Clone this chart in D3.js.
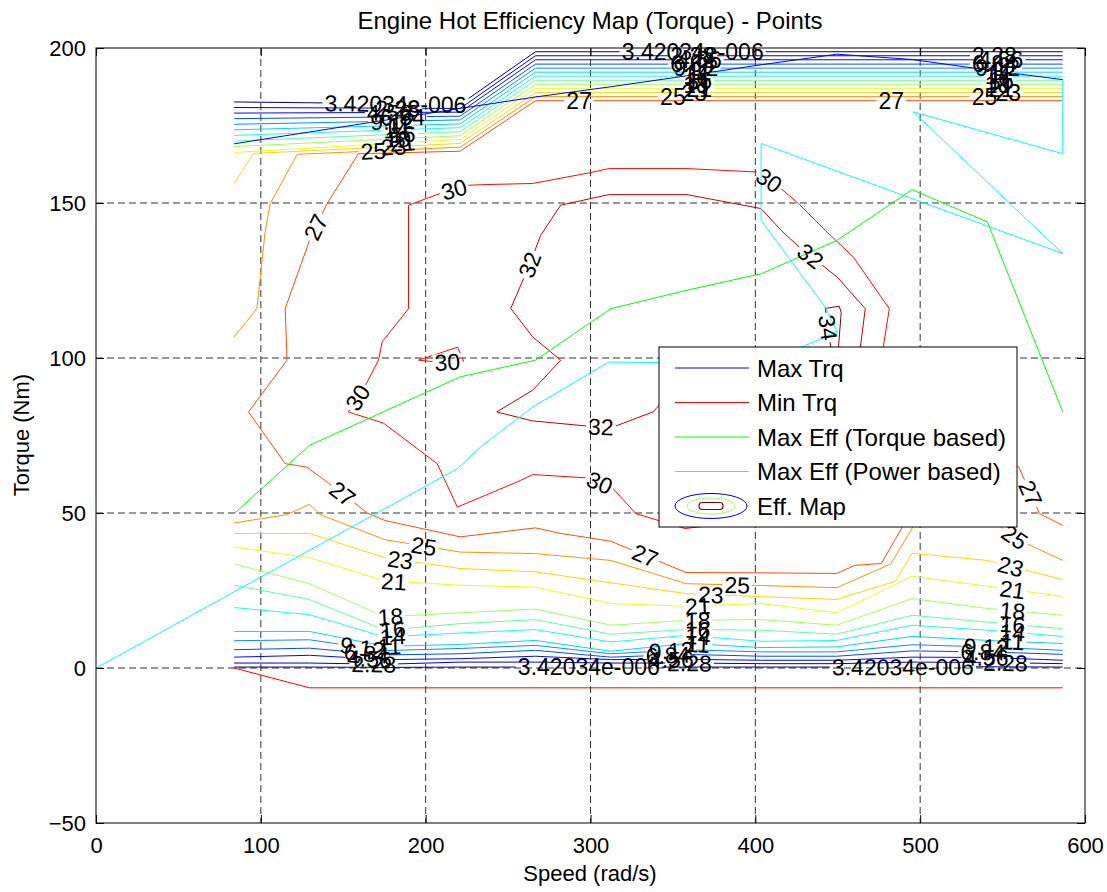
<!DOCTYPE html>
<html>
<head>
<meta charset="utf-8">
<script src="https://cdn.jsdelivr.net/npm/d3@7"></script>
<style>
  body { margin: 0; background: #fff; }
  svg text { font-family: "Liberation Sans", Arial, sans-serif; fill: #000; }
</style>
</head>
<body>
<svg id="chart" width="1107" height="892"></svg>
<script>
// ---- data (speed rad/s, torque Nm) ----
const speeds = [83.8, 129.5, 175.2, 220.9, 266.6, 312.3, 358, 403.7, 449.4, 495.1, 540.8, 586.5];
const levels = [0.00000342034, 2.28, 4.56, 6.84, 9.12, 11.4, 13.7, 16.0, 18.2, 20.5, 22.8, 25.1, 27.4, 29.6, 31.9, 34.2];
const levelText = ["3.42034e-006", "2.28", "4.56", "6.84", "9.12", "11", "14", "16", "18", "21", "23", "25", "27", "30", "32", "34"];

// low-load contours (levels 0..9), torque at each speed
const lowTorque = [
  [0.3, 0.3, 0.2, 0.3, 0.3, 0.3, 0.3, 0.3, 0.3, 0.4, 0.4, 0.3],
  [1.6, 1.6, 1.2, 1.9, 1.9, 1.6, 1.6, 1.4, 1.4, 1.9, 1.8, 1.4],
  [3.5, 4.1, 2.7, 3.0, 3.8, 2.7, 2.8, 2.5, 2.5, 3.5, 3.4, 2.5],
  [5.9, 6.4, 4.2, 4.6, 5.7, 3.5, 4.4, 3.8, 3.8, 5.5, 5.2, 4.4],
  [8.8, 9.1, 5.6, 6.3, 7.3, 4.6, 5.9, 5.2, 5.2, 7.5, 6.8, 5.7],
  [11.8, 11.8, 7.0, 7.6, 8.9, 5.4, 7.9, 6.6, 6.8, 10.2, 8.9, 7.9],
  [19.5, 17.2, 10.0, 11.3, 12.4, 8.4, 10.5, 8.6, 8.9, 13.8, 12.2, 10.2],
  [26.7, 22.1, 12.2, 14.3, 15.6, 10.9, 12.4, 12.2, 10.9, 17.0, 14.8, 12.7],
  [33.6, 27.2, 16.5, 17.8, 19.0, 13.8, 15.4, 15.6, 13.8, 22.4, 19.2, 17.0],
  [39.0, 35.6, 28.1, 26.7, 26.1, 20.8, 19.9, 20.8, 17.8, 29.6, 26.4, 23.1]
];

// full-load contours (levels 0..9): torque at speeds[0], speeds[3], then flat from speeds[4]
const topAtS0 = [182.6, 180.8, 179.0, 177.2, 175.4, 173.6, 171.8, 170.0, 168.2, 166.3];
const topAtS3 = [181.8, 180.5, 179.3, 178.0, 176.8, 175.5, 174.3, 173.0, 171.7, 170.5];
const topFlat = [198.8, 197.5, 196.2, 194.8, 193.5, 192.2, 190.9, 189.6, 188.3, 187.0];

const c23top = [[586.5,185.6],[266.6,185.6],[220.9,169.2],[95.6,166.0],[83.8,156.3]];
const c23low = [[83.8,43.4],[129.5,43.4],[175.2,35.6],[220.9,32.1],[266.6,31.0],[312.3,27.5],[358,24.0],[403.7,23.0],[449.4,22.1],[485,28],[495.1,37],[540.8,34.7],[586.5,28.5]];
const c25top = [[586.5,184.3],[266.6,184.3],[220.9,168.0],[122,165.7],[105.7,149.8],[102.7,141.2],[97.6,115.9],[83.8,106.8]];
const c25low = [[83.8,46.8],[116,49.5],[129.5,52.8],[136,49.5],[175.2,41.4],[220.9,37.4],[266.6,36.9],[312.3,34.7],[358,27.2],[403.7,26.6],[449.4,25.9],[482,33.5],[494,44],[510,60],[535,62],[548.7,45.5],[560.2,41.2],[586.5,34.7]];
const c27 = [[586.5,183.0],[266.6,183.0],[220.9,166.7],[159.2,165.9],[140.2,149.8],[130,138.6],[114.8,116.0],[115.9,99.3],[92.5,82.6],[114.8,65.9],[128.0,64.8],[144.2,58.4],[156.3,53.5],[164.5,50.0],[175.2,47.6],[220.9,42.3],[266.6,45.2],[282,43.4],[312.3,40.9],[358,30.8],[403.7,30.7],[449.4,30.5],[460.4,33.1],[476.4,33.7],[489.2,45.5],[506.8,60.5],[543.2,70.2],[559.6,65.1],[572.4,49.8],[586.5,46.0]];
const c30 = [[357.3,45.0],[339.3,47.9],[327.5,49.8],[313.5,58.0],[299,61.3],[264.9,62.4],[257.6,60.5],[219.2,51.9],[207.0,65.9],[174.4,79.0],[153.1,82.6],[163.5,91.2],[171.4,99.3],[173.6,105.2],[189.6,115.9],[189.6,149.3],[210.9,153.5],[225.4,155.7],[233.3,155.9],[264.9,156.3],[299,159.7],[311.1,161.1],[358.5,161.1],[401,160.0],[414.4,155.2],[426.6,149.6],[442.4,141.2],[459.4,132.6],[481.3,115.9],[477.6,103.5],[470,75],[440,50],[357.3,45.0]];
const c30loop = [[195.7,99.3],[219.4,103.5],[223,99.0],[209,98.6],[195.7,99.3]];
const c32 = [[342.7,85.4],[337.9,82.6],[313.5,77.7],[299,78.0],[264.9,79.7],[243.1,82.6],[264.9,89.6],[281.9,99.3],[264.9,106.8],[251.6,116.0],[262.5,129.4],[269.8,139.6],[281.9,149.3],[311.1,152.7],[358.5,152.7],[403.5,148.2],[415.6,141.2],[426.6,135.8],[449.7,126.1],[466.7,115.9],[463.7,103.5],[455,80],[420,75],[342.7,85.4]];
const c34 = [[442.4,116.0],[450.9,116.7],[452.1,114.7],[450.3,102.5],[446,102.5],[443.6,112.2],[442.4,116.0]];

// operating lines
const maxTrqSpeed = [83.8, 220.9, 266.6, 312.3, 358, 403.7, 449.4, 495.1, 540.8, 586.5];
const maxTrqTorque = [169.1, 180.5, 184.2, 187.5, 191.0, 194.6, 198.0, 196.3, 192.9, 189.8];
const minTrqSpeed = [83.8, 129.5, 586.5];
const minTrqTorque = [0, -6.4, -6.4];
const effTrqSpeed = [83.8, 129.5, 220.9, 266.6, 312.3, 358, 403.7, 449.4, 495.1, 540.8, 586.5];
const effTrqTorque = [49.8, 71.8, 93.9, 99.3, 115.9, 121.8, 127.2, 137.9, 154.3, 143.9, 82.6];
const effPwrSpeed = [0, 219.2, 233.3, 264.9, 311.1, 345.2, 427.8, 449.7, 442.4, 403.5, 403.5, 586.5, 495.8, 586.5, 586.5];
const effPwrTorque = [0, 64.3, 71.3, 84.2, 98.7, 98.5, 103.5, 108.4, 116.4, 144.4, 169.2, 133.7, 179.4, 165.9, 189.6];

// contour label spots: [level index, speed, torque]
const labelSpots = [
  [0,181.7,182.0],[1,183,180.6],[2,178,179.2],[3,186,177.8],[4,180,176.4],[5,184,174.9],[6,182,173.6],[7,186,172.1],[8,183,170.7],[9,186,169.2],[10,180.5,168.1],[11,168.3,166.5],
  [0,362,198.8],[1,362,197.5],[2,366,196.2],[3,362,194.8],[4,364,193.5],[5,366,192.2],[6,364,190.9],[7,366,189.6],[8,364,188.3],[9,366,187.0],[10,363,185.6],[11,350,184.3],[12,293,183.0],
  [1,545,197.5],[2,549,196.2],[3,545,194.8],[4,547,193.5],[5,549,192.2],[6,547,190.9],[7,549,189.6],[8,547,188.3],[9,549,187.0],[10,553.4,185.6],[11,539,184.3],[12,482.5,183.0],
  [1,168.5,1.3],[2,166,2.9],[3,164,4.5],[4,161.4,5.9],[5,178,6.9],[6,180,10.1],[7,180,12.4],[8,178.6,16.7],[9,180.7,27.9],[10,184.7,35.2],[11,198.9,39.3],[12,149.3,56.0],
  [0,299,0.3],[1,360,1.4],[2,349,2.6],[3,347,4.0],[4,349,5.5],[5,365,7.0],[6,365,9.5],[7,365,12.2],[8,365,15.5],[9,365,20.0],[10,373,23.5],[11,389,26.9],[12,332,34.7],
  [0,489.5,0.4],[1,551.7,1.7],[2,540,3.4],[3,538,5.2],[4,540,6.8],[5,556,8.6],[6,556,11.5],[7,556,14.1],[8,556,18.4],[9,556,25.4],[10,555,32.8],[11,555,40.5],[12,566.6,56.3],
  [13,217.1,154.6],[12,134.9,141.8],[13,158.6,87.3],[13,213.3,97.6],[14,267.4,129.2],[14,306.3,77.3],[13,305,59.0],[13,407.1,156.3],[14,431.4,131.5],[15,441.2,109.6]
];

const xTicks = [0, 100, 200, 300, 400, 500, 600];
const yTicks = [-50, 0, 50, 100, 150, 200];
const legendNames = ["Max Trq", "Min Trq", "Max Eff (Torque based)", "Max Eff (Power based)", "Eff. Map"];

// ---- drawing ----
const svg = d3.select("#chart");
const x = d3.scaleLinear().domain([0, 600]).range([96, 1085]);
const y = d3.scaleLinear().domain([-50, 200]).range([823, 48]);
const line = d3.line().x(d => x(d[0])).y(d => y(d[1]));
const zip = (a, b) => a.map((v, i) => [v, b[i]]);

function jet(v) {
  const t = v / 34.2;
  const c = a => Math.round(255 * Math.max(0, Math.min(1, a)));
  return `rgb(${c(1.5 - Math.abs(4*t - 3))},${c(1.5 - Math.abs(4*t - 2))},${c(1.5 - Math.abs(4*t - 1))})`;
}

const contours = [];
lowTorque.forEach((row, i) => contours.push({ lev: i, pts: zip(speeds, row) }));
topFlat.forEach((tr, i) => contours.push({ lev: i, pts: [[speeds[0], topAtS0[i]], [speeds[3], topAtS3[i]], [speeds[4], tr], [speeds[11], tr]] }));
[[10, c23top], [10, c23low], [11, c25top], [11, c25low], [12, c27], [13, c30], [13, c30loop], [14, c32], [15, c34]]
  .forEach(([lev, pts]) => contours.push({ lev, pts }));

svg.append("rect").attr("width", 1107).attr("height", 892).attr("fill", "#fff");

const defs = svg.append("defs");
defs.append("clipPath").attr("id", "plotclip")
  .append("rect").attr("x", 96).attr("y", 48).attr("width", 989).attr("height", 775);

// grid
const grid = svg.append("g").attr("stroke", "#333").attr("stroke-dasharray", "7,4").attr("stroke-width", 1);
grid.selectAll(".gx").data(xTicks.slice(1, -1)).join("line")
  .attr("x1", d => x(d)).attr("x2", d => x(d)).attr("y1", 48).attr("y2", 823);
grid.selectAll(".gy").data(yTicks.slice(1, -1)).join("line")
  .attr("x1", 96).attr("x2", 1085).attr("y1", d => y(d)).attr("y2", d => y(d));

// label geometry: snap to nearest point of that level's lines
const labelInfo = labelSpots.map(([lev, s, t]) => {
  const px = x(s), py = y(t);
  let best = null;
  contours.filter(c => c.lev === lev).forEach(c => {
    for (let k = 0; k < c.pts.length - 1; k++) {
      const ax = x(c.pts[k][0]), ay = y(c.pts[k][1]);
      const bx = x(c.pts[k+1][0]), by = y(c.pts[k+1][1]);
      const dx = bx - ax, dy = by - ay;
      const L2 = dx*dx + dy*dy || 1;
      const u = Math.max(0, Math.min(1, ((px-ax)*dx + (py-ay)*dy) / L2));
      const qx = ax + u*dx, qy = ay + u*dy;
      const d2 = (qx-px)**2 + (qy-py)**2;
      if (!best || d2 < best.d2) {
        let ang = Math.atan2(dy, dx) * 180 / Math.PI;
        if (ang > 90) ang -= 180;
        if (ang <= -90) ang += 180;
        best = { d2, qx, qy, ang };
      }
    }
  });
  return { lev, text: levelText[lev], x: best.qx, y: best.qy, ang: best.ang };
});

// labels layer (drawn first to measure, raised later)
const labelLayer = svg.append("g").attr("font-size", 23).attr("text-anchor", "middle");
labelLayer.selectAll("text").data(labelInfo).join("text")
  .attr("transform", d => `translate(${d.x},${d.y}) rotate(${d.ang})`)
  .attr("dy", "0.36em")
  .text(d => d.text)
  .each(function(d) { d.w = this.getComputedTextLength(); });

// masks that cut each contour line where its labels sit
d3.range(levels.length).forEach(lev => {
  const m = defs.append("mask").attr("id", "mask" + lev)
    .attr("maskUnits", "userSpaceOnUse").attr("x", 0).attr("y", 0).attr("width", 1107).attr("height", 892);
  m.append("rect").attr("width", 1107).attr("height", 892).attr("fill", "#fff");
  labelInfo.filter(d => d.lev === lev).forEach(d => {
    m.append("rect").attr("x", -d.w/2 - 2).attr("y", -8).attr("width", d.w + 4).attr("height", 16)
      .attr("fill", "#000").attr("transform", `translate(${d.x},${d.y}) rotate(${d.ang})`);
  });
});

const plot = svg.append("g").attr("clip-path", "url(#plotclip)");
d3.range(levels.length).forEach(lev => {
  plot.append("g").attr("mask", `url(#mask${lev})`)
    .selectAll("path").data(contours.filter(c => c.lev === lev)).join("path")
    .attr("d", d => line(d.pts)).attr("fill", "none")
    .attr("stroke", jet(levels[lev])).attr("stroke-width", 1);
});

const series = [
  { pts: zip(maxTrqSpeed, maxTrqTorque), color: "#0000ff" },
  { pts: zip(minTrqSpeed, minTrqTorque), color: "#ff0000" },
  { pts: zip(effTrqSpeed, effTrqTorque), color: "#00ff00" },
  { pts: zip(effPwrSpeed, effPwrTorque), color: "#00ffff" }
];
plot.selectAll(".series").data(series).join("path")
  .attr("d", d => line(d.pts)).attr("fill", "none")
  .attr("stroke", d => d.color).attr("stroke-width", 1);

labelLayer.raise();

// axes with inward ticks on all sides
const axFont = g => g.call(s => s.select(".domain").remove())
  .selectAll("text").attr("font-size", 22).attr("font-family", "Liberation Sans, Arial, sans-serif").attr("fill", "#000");
svg.append("g").attr("transform", "translate(0,823)")
  .call(d3.axisBottom(x).tickValues(xTicks).tickSize(-8).tickSizeOuter(0).tickPadding(14)).call(axFont);
svg.append("g").attr("transform", "translate(96,0)")
  .call(d3.axisLeft(y).tickValues(yTicks).tickSize(-8).tickSizeOuter(0).tickPadding(10)).call(axFont);
svg.append("g").attr("transform", "translate(0,48)")
  .call(d3.axisTop(x).tickValues(xTicks).tickSize(-8).tickSizeOuter(0).tickFormat("")).call(axFont);
svg.append("g").attr("transform", "translate(1085,0)")
  .call(d3.axisRight(y).tickValues(yTicks).tickSize(-8).tickSizeOuter(0).tickFormat("")).call(axFont);
svg.selectAll(".tick line").attr("stroke", "#000");
svg.append("rect").attr("x", 96).attr("y", 48).attr("width", 989).attr("height", 775)
  .attr("fill", "none").attr("stroke", "#000").attr("stroke-width", 1);

// titles
svg.append("text").attr("x", 590).attr("y", 29).attr("text-anchor", "middle").attr("font-size", 24)
  .text("Engine Hot Efficiency Map (Torque) - Points");
svg.append("text").attr("x", 590).attr("y", 881).attr("text-anchor", "middle").attr("font-size", 22)
  .text("Speed (rad/s)");
svg.append("text").attr("transform", "translate(29,435) rotate(-90)").attr("text-anchor", "middle").attr("font-size", 22)
  .text("Torque (Nm)");

// legend
const lg = svg.append("g");
lg.append("rect").attr("x", 659).attr("y", 347).attr("width", 358).attr("height", 180)
  .attr("fill", "#fff").attr("stroke", "#000").attr("stroke-width", 1);
const rowY = d3.scalePoint().domain(legendNames).range([368, 506]);
series.forEach((s, i) => {
  lg.append("line").attr("x1", 675).attr("x2", 749).attr("y1", rowY(legendNames[i])).attr("y2", rowY(legendNames[i]))
    .attr("stroke", s.color).attr("stroke-width", 1);
});
lg.selectAll(".lt").data(legendNames).join("text")
  .attr("x", 757).attr("y", d => rowY(d)).attr("dy", "0.36em").attr("font-size", 24).text(d => d);
const iy = rowY("Eff. Map");
lg.append("ellipse").attr("cx", 711).attr("cy", iy).attr("rx", 36).attr("ry", 12.5)
  .attr("fill", "none").attr("stroke", jet(levels[1])).attr("stroke-width", 1);
lg.append("ellipse").attr("cx", 711).attr("cy", iy).attr("rx", 24).attr("ry", 8)
  .attr("fill", "none").attr("stroke", jet(levels[8])).attr("stroke-width", 1);
lg.append("rect").attr("x", 699).attr("y", iy - 3.5).attr("width", 24).attr("height", 7).attr("rx", 3)
  .attr("fill", "none").attr("stroke", jet(levels[15])).attr("stroke-width", 1.2);
</script>
</body>
</html>
